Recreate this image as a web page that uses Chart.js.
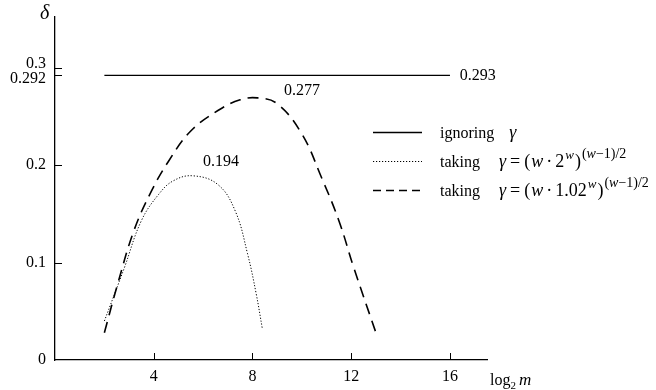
<!DOCTYPE html>
<html>
<head>
<meta charset="utf-8">
<script src="https://cdn.jsdelivr.net/npm/chart.js@4"></script>
<style>
body{margin:0;background:#fff;}
#wrap{width:656px;height:390px;}
</style>
</head>
<body>
<div id="wrap"><canvas id="mycanvas" width="656" height="390"></canvas></div>
<script>
// data
var ignoreX = [2, 16];
var ignoreY = [0.292, 0.292];

var gamma2X = [2, 2.8, 3.5, 4.2, 4.8, 5.6, 6.6, 7.3, 7.8, 8.15, 8.4];
var gamma2Y = [0.04, 0.094, 0.143, 0.170, 0.184, 0.189, 0.180, 0.153, 0.109, 0.068, 0.032];

var gamma102X = [2, 2.55, 3.2, 3.9, 4.6, 5.5, 6.6, 7.5, 8.2, 9.0, 10.0, 10.8, 11.5, 12.1, 13.0];
var gamma102Y = [0.028, 0.079, 0.133, 0.173, 0.204, 0.235, 0.256, 0.267, 0.269, 0.263, 0.232, 0.187, 0.143, 0.095, 0.028];

var xTicks = [4, 8, 12, 16];
var yTicks = [0, 0.1, 0.2, 0.292, 0.3];
var yTickText = ['0', '0.1', '0.2', '0.292', '0.3'];

// value labels [x, y, text], left edge of the text
var notes = [[9.28, 0.2765, '0.277'], [6.0, 0.203, '0.194'], [16.4, 0.292, '0.293']];

function pts(xs, ys){
	var out = [];
	for(var i=0;i<xs.length;i++) out.push({x:xs[i], y:ys[i]});
	return out;
}

var SERIF = '"Liberation Serif", "DejaVu Serif", serif';

// draws a run of text pieces: [text, italic, size, dy, gapAfter]
function drawRun(ctx, x, y, parts){
	for(var i=0;i<parts.length;i++){
		var p = parts[i];
		ctx.font = (p[1] ? 'italic ' : '') + p[2] + 'px ' + SERIF;
		ctx.fillText(p[0], x, y + (p[3]||0));
		x += ctx.measureText(p[0]).width + (p[4]||0);
	}
	return x;
}

function eqParts(base){
	return [['taking', false, 16, 0, 19], ['γ', true, 18, 0, 4], ['=', false, 18, 0, 4], ['(', false, 18, 0, 1], ['w', true, 18, 0, 3],
		['·', false, 18, 0, 3], [base, false, 18, 0, 1], ['w', true, 13, -8, 1], [')', false, 18, 0, 1],
		['(', false, 14, -9], ['w', true, 14, -9], ['−1)/2', false, 14, -9]];
}

var decor = {
	id:'decor',
	afterDraw:function(chart){
		var ctx = chart.ctx;
		var xs = chart.scales.x, ys = chart.scales.y;
		var a = chart.chartArea;
		ctx.save();
		ctx.strokeStyle = '#000';
		ctx.fillStyle = '#000';
		ctx.lineWidth = 1;
		// inward tick marks
		ctx.beginPath();
		for(var i=0;i<xTicks.length;i++){
			var px = Math.round(xs.getPixelForValue(xTicks[i])) + 0.5;
			ctx.moveTo(px, a.bottom); ctx.lineTo(px, a.bottom - 7);
		}
		for(var j=0;j<yTicks.length;j++){
			if(yTicks[j] === 0) continue;
			var py = Math.round(ys.getPixelForValue(yTicks[j])) + 0.5;
			ctx.moveTo(a.left, py); ctx.lineTo(a.left + 7, py);
		}
		ctx.stroke();

		// y tick labels
		ctx.font = '16px ' + SERIF;
		ctx.textAlign = 'right';
		ctx.textBaseline = 'middle';
		for(var k=0;k<yTicks.length;k++){
			var yy = ys.getPixelForValue(yTicks[k]);
			if(yTickText[k] === '0.3') yy -= 4;
			if(yTickText[k] === '0.292') yy += 3;
			ctx.fillText(yTickText[k], a.left - 9, yy);
		}
		// axis titles
		ctx.textAlign = 'left';
		ctx.textBaseline = 'alphabetic';
		ctx.font = 'italic 20px ' + SERIF;
		ctx.fillText('δ', 40, 19);
		drawRun(ctx, 490, 385, [['log', false, 16, 0], ['2', false, 11, 4, 3], ['m', true, 17, 0]]);

		// value labels
		ctx.font = '16px ' + SERIF;
		ctx.textBaseline = 'middle';
		for(var n=0;n<notes.length;n++){
			ctx.fillText(notes[n][2], xs.getPixelForValue(notes[n][0]), ys.getPixelForValue(notes[n][1]));
		}

		// legend
		var lx0 = 373, lx1 = 422, tx = 440;
		var rows = [132, 161, 190];
		var dashes = [[], [1.2, 1.8], [8, 5]];
		var widths = [1.3, 1, 1.5];
		for(var r=0;r<rows.length;r++){
			ctx.setLineDash(dashes[r]);
			ctx.lineWidth = widths[r];
			ctx.beginPath();
			ctx.moveTo(lx0, rows[r] + 0.5); ctx.lineTo(lx1, rows[r] + 0.5);
			ctx.stroke();
		}
		ctx.setLineDash([]);
		ctx.textBaseline = 'alphabetic';
		drawRun(ctx, tx, rows[0] + 6, [['ignoring', false, 16, 0, 15], ['γ', true, 18]]);
		drawRun(ctx, tx, rows[1] + 6, eqParts('2'));
		drawRun(ctx, tx, rows[2] + 6, eqParts('1.02'));
		ctx.restore();
	}
};

var chartdata = {
	datasets:[
		{
			label:'ignoring γ',
			data:pts(ignoreX, ignoreY),
			borderColor:'#000',
			borderWidth:1.3,
			pointRadius:0
		},
		{
			label:'taking γ=(w·2^w)^((w-1)/2)',
			data:pts(gamma2X, gamma2Y),
			borderColor:'#000',
			borderWidth:1,
			borderDash:[1.2, 1.8],
			tension:0.4,
			pointRadius:0
		},
		{
			label:'taking γ=(w·1.02^w)^((w-1)/2)',
			data:pts(gamma102X, gamma102Y),
			borderColor:'#000',
			borderWidth:1.6,
			borderDash:[11, 7],
			tension:0.4,
			pointRadius:0
		}
	]
};

var ctx = document.getElementById('mycanvas');
var chart = new Chart(ctx, {
	type:'line',
	data:chartdata,
	options:{
		responsive:false,
		animation:false,
		layout:{padding:{left:0, top:17, right:169, bottom:0}},
		plugins:{legend:{display:false}, tooltip:{enabled:false}},
		scales:{
			x:{
				type:'linear',
				min:0,
				max:17.5,
				grid:{display:false, drawTicks:false},
				border:{display:true, color:'#000', width:1.3},
				afterBuildTicks:function(s){ s.ticks = xTicks.map(function(v){ return {value:v}; }); },
				ticks:{
					autoSkip:false,
					maxRotation:0,
					padding:7,
					color:'#000',
					font:{family:SERIF, size:16}
				},
				afterFit:function(s){ s.height = 30; }
			},
			y:{
				type:'linear',
				min:0,
				max:0.352,
				grid:{display:false, drawTicks:false},
				border:{display:true, color:'#000', width:1.3},
				ticks:{display:false},
				afterFit:function(s){ s.width = 55; }
			}
		}
	},
	plugins:[decor]
});
</script>
</body>
</html>
